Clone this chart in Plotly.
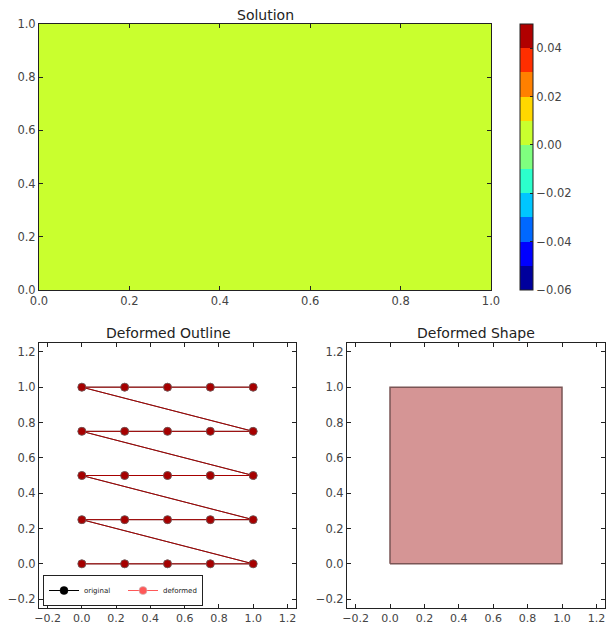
import plotly.graph_objects as go

# ---- data ----
grid_x = [0.0, 0.25, 0.5, 0.75, 1.0]
grid_y = [0.0, 0.25, 0.5, 0.75, 1.0]
solution = [[0.0] * 5 for _ in range(5)]

level_min = -0.06
level_max = 0.05
band_colors = ["#00009c", "#0000ff", "#0068ff", "#00c6ff", "#2cffcc",
               "#7fff7f", "#c9ff2e", "#ffd800", "#ff8000", "#ff2e00", "#b00000"]
cbar_ticks = [-0.06, -0.04, -0.02, 0.00, 0.02, 0.04]

# mesh nodes in node order (row by row)
node_x = [0.0, 0.25, 0.5, 0.75, 1.0] * 5
node_y = [0.0] * 5 + [0.25] * 5 + [0.5] * 5 + [0.75] * 5 + [1.0] * 5
disp_x = [0.0] * 25
disp_y = [0.0] * 25

# boundary of deformed shape
shape_x = [0.0, 1.0, 1.0, 0.0, 0.0]
shape_y = [0.0, 0.0, 1.0, 1.0, 0.0]

axis_ticks = [-0.2, 0.0, 0.2, 0.4, 0.6, 0.8, 1.0, 1.2]
top_ticks = [0.0, 0.2, 0.4, 0.6, 0.8, 1.0]

# ---- figure ----
n = len(band_colors)
colorscale = []
for i, c in enumerate(band_colors):
    colorscale.append([i / n, c])
    colorscale.append([(i + 1) / n, c])

FONT = "DejaVu Sans"
fig = go.Figure()

fig.add_trace(go.Heatmap(
    x=grid_x, y=grid_y, z=solution, zmin=level_min, zmax=level_max,
    colorscale=colorscale, xaxis="x", yaxis="y",
    colorbar=dict(
        x=520 / 607, xanchor="left",
        y=1 - 24 / 624, yanchor="top",
        len=266 / 624, lenmode="fraction", thickness=13,
        xpad=0, ypad=0,
        outlinecolor="#222", outlinewidth=1,
        tickvals=cbar_ticks, tickformat=".2f", ticks="inside", ticklen=3,
        tickcolor="#222", tickfont=dict(family=FONT, size=11.5, color="#444"),
    ),
    showscale=True, hoverinfo="skip",
))

orig_x = node_x
orig_y = node_y
def_x = [a + b for a, b in zip(node_x, disp_x)]
def_y = [a + b for a, b in zip(node_y, disp_y)]

fig.add_trace(go.Scatter(
    x=orig_x, y=orig_y, mode="lines+markers", name="original",
    line=dict(color="black", width=1),
    marker=dict(color="black", size=8, line=dict(color="black", width=0.5)),
    xaxis="x2", yaxis="y2",
))
fig.add_trace(go.Scatter(
    x=def_x, y=def_y, mode="lines+markers", name="deformed",
    line=dict(color="#ff0000", width=1),
    marker=dict(color="#ff0000", size=8, line=dict(color="#aaa", width=0.6)),
    opacity=0.65, xaxis="x2", yaxis="y2",
))

fig.add_trace(go.Scatter(
    x=shape_x, y=shape_y, mode="lines", fill="toself",
    fillcolor="#d59595", line=dict(color="#7a5555", width=1.5),
    showlegend=False, xaxis="x3", yaxis="y3", hoverinfo="skip",
))

def ax(domain, rng, ticks, anchor, fsize=11.5, **kw):
    d = dict(domain=domain, range=rng, tickvals=ticks, tickformat=".1f",
             showline=True, mirror="allticks", linecolor="#222", linewidth=1,
             ticks="inside", ticklen=4, tickcolor="#222",
             showgrid=False, zeroline=False, anchor=anchor, automargin=False,
             tickfont=dict(family=FONT, size=fsize, color="#444"))
    d.update(kw)
    return d

def title(text, xpx, ypx):
    return dict(text=text, x=xpx / 607, y=1 - ypx / 624, xref="paper", yref="paper",
                xanchor="center", yanchor="middle", showarrow=False,
                font=dict(family=FONT, size=14, color="#222"))

fig.update_layout(
    width=607, height=624,
    margin=dict(l=0, r=0, t=0, b=0, autoexpand=False),
    paper_bgcolor="white", plot_bgcolor="white",
    font=dict(family=FONT, color="#222"),
    xaxis=ax([39 / 607, 491 / 607], [0, 1], top_ticks, "y"),
    yaxis=ax([1 - 290 / 624, 1 - 24 / 624], [0, 1], top_ticks, "x"),
    xaxis2=ax([39 / 607, 296 / 607], [-0.25, 1.25], axis_ticks, "y2", fsize=11),
    yaxis2=ax([1 - 608 / 624, 1 - 343 / 624], [-0.25, 1.25], axis_ticks, "x2"),
    xaxis3=ax([347 / 607, 605 / 607], [-0.25, 1.25], axis_ticks, "y3", fsize=11),
    yaxis3=ax([1 - 608 / 624, 1 - 343 / 624], [-0.25, 1.25], axis_ticks, "x3"),
    showlegend=True,
    legend=dict(
        x=43 / 607, y=1 - 606 / 624, xanchor="left", yanchor="bottom",
        orientation="h", bgcolor="white", bordercolor="#222", borderwidth=1,
        font=dict(family=FONT, size=7, color="#222"),
        itemwidth=30, tracegroupgap=0, entrywidth=34, entrywidthmode="pixels",
    ),
    annotations=[
        title("Solution", 265, 15),
        title("Deformed Outline", 168, 333),
        title("Deformed Shape", 476, 333),
    ],
)

fig.write_html("out.html", config={"displayModeBar": False},
               post_script="document.body.style.margin='0';document.body.style.overflow='hidden';")
